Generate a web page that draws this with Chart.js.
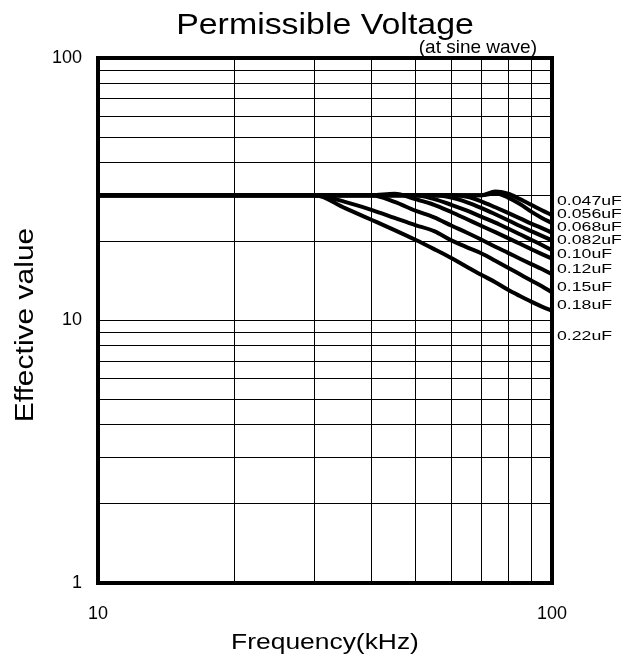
<!DOCTYPE html>
<html>
<head>
<meta charset="utf-8">
<script src="https://cdn.jsdelivr.net/npm/chart.js@4/dist/chart.umd.min.js"></script>
<style>
  html, body { margin: 0; padding: 0; background: #fff; }
  #wrap { width: 630px; height: 659px; }
</style>
</head>
<body>
<div id="wrap"><canvas id="pv" width="630" height="659"></canvas></div>
<script>
// frequency grid (kHz) shared by all curves
var freq = [10, 30, 35, 40, 45, 50, 55, 60, 65, 70, 75, 80, 85, 90, 95, 100];

var capLabels = ["0.047uF", "0.056uF", "0.068uF", "0.082uF", "0.10uF", "0.12uF", "0.15uF", "0.18uF", "0.22uF"];

// permissible voltage (Vrms) per capacitance
var v047 = [30, 30, 30, 30, 30, 30, 30, 30, 30, 30, 31.0, 30.4, 29.0, 27.6, 26.3, 25.2];
var v056 = [30, 30, 30, 30, 30, 30, 30, 30, 30, 30, 30.5, 29.4, 27.8, 26.0, 24.6, 23.5];
var v068 = [30, 30, 30, 30, 30, 30, 30, 30, 29.6, 28.4, 27.0, 25.7, 24.5, 23.4, 22.5, 21.6];
var v082 = [30, 30, 30, 30, 30, 30, 30, 29.4, 28.2, 26.8, 25.4, 24.1, 22.9, 21.9, 21.0, 20.2];
var v10  = [30, 30, 30, 30, 30, 30, 29.0, 27.6, 26.2, 24.8, 23.6, 22.4, 21.3, 20.3, 19.4, 18.5];
var v12  = [30, 30, 30, 30, 30.4, 29.0, 27.6, 25.9, 24.3, 22.9, 21.7, 20.6, 19.6, 18.7, 17.9, 17.2];
var v15  = [30, 30, 30, 30, 28.3, 26.2, 24.7, 23.0, 21.6, 20.3, 19.1, 18.1, 17.2, 16.4, 15.7, 15.0];
var v18  = [30, 30, 28.3, 26.4, 24.6, 23.1, 21.9, 20.2, 19.0, 18.0, 16.9, 15.9, 15.0, 14.2, 13.5, 12.8];
var v22  = [30, 30, 26.8, 24.2, 22.1, 20.3, 18.7, 17.3, 16.0, 14.9, 14.0, 13.1, 12.4, 11.8, 11.3, 10.9];

// voltage level where each curve label sits at the right edge
var labelAt = [28.3, 25.4, 22.7, 20.1, 17.9, 15.7, 13.4, 11.4, 8.7];

var xTicks = [10, 20, 30, 40, 50, 60, 70, 80, 90, 100];
var yTicks = [1, 2, 3, 4, 5, 6, 7, 8, 9, 10, 20, 30, 40, 50, 60, 70, 80, 90, 100];
var xShown = [10, 100];
var yShown = [1, 10, 100];

var FONT = "'Liberation Sans', Arial, sans-serif";

function toPoints(vals) {
    return freq.map(function(f, i) { return { x: f, y: vals[i] }; });
}

function stretchText(ctx, txt, x, y, sx, align) {
    ctx.save();
    ctx.translate(x, y);
    ctx.scale(sx, 1);
    ctx.textAlign = align;
    ctx.fillText(txt, 0, 0);
    ctx.restore();
}

var series = [v047, v056, v068, v082, v10, v12, v15, v18, v22];

var decor = {
    id: "decor",
    afterDatasetsDraw: function(chart) {
        var ctx = chart.ctx, a = chart.chartArea;
        ctx.save();
        ctx.strokeStyle = "#000";
        ctx.lineWidth = 4;
        ctx.strokeRect(a.left, a.top, a.right - a.left, a.bottom - a.top);
        ctx.restore();
    },
    afterDraw: function(chart) {
        var ctx = chart.ctx, a = chart.chartArea;
        var ys = chart.scales.y;
        ctx.save();
        ctx.fillStyle = "#000";
        ctx.textBaseline = "alphabetic";

        ctx.font = "30px " + FONT;
        stretchText(ctx, "Permissible Voltage", (a.left + a.right) / 2, 34, 1.13, "center");

        ctx.font = "19px " + FONT;
        stretchText(ctx, "(at sine wave)", 537, 53, 1.0, "right");

        ctx.font = "22px " + FONT;
        stretchText(ctx, "Frequency(kHz)", (a.left + a.right) / 2, 649, 1.2, "center");

        ctx.save();
        ctx.translate(33, 325);
        ctx.rotate(-Math.PI / 2);
        ctx.font = "25px " + FONT;
        stretchText(ctx, "Effective value", 0, 0, 1.2, "center");
        ctx.restore();

        // curve labels
        ctx.font = "13px " + FONT;
        ctx.textBaseline = "middle";
        capLabels.forEach(function(lbl, i) {
            stretchText(ctx, lbl, a.right + 5, ys.getPixelForValue(labelAt[i]), 1.36, "left");
        });
        ctx.restore();
    }
};

new Chart(document.getElementById("pv"), {
    type: "line",
    data: {
        datasets: series.map(function(s, i) {
            return {
                label: capLabels[i],
                data: toPoints(s),
                borderColor: "#000",
                borderWidth: 4,
                pointRadius: 0,
                fill: false,
                cubicInterpolationMode: "monotone"
            };
        })
    },
    options: {
        responsive: false,
        devicePixelRatio: 1,
        animation: false,
        layout: { padding: { top: 58, right: 78, left: 0, bottom: 0 } },
        plugins: {
            legend: { display: false },
            tooltip: { enabled: false },
            title: { display: false }
        },
        scales: {
            x: {
                type: "logarithmic",
                min: 10,
                max: 100,
                afterBuildTicks: function(scale) {
                    scale.ticks = xTicks.map(function(v) { return { value: v }; });
                },
                afterFit: function(scale) { scale.height = 76; },
                ticks: {
                    autoSkip: false,
                    maxRotation: 0,
                    padding: 20,
                    color: "#000",
                    font: { family: FONT, size: 18 },
                    callback: function(v) { return xShown.indexOf(v) >= 0 ? String(v) : ""; }
                },
                grid: { color: "#000", lineWidth: 1, drawTicks: false },
                border: { display: false }
            },
            y: {
                type: "logarithmic",
                min: 1,
                max: 100,
                afterBuildTicks: function(scale) {
                    scale.ticks = yTicks.map(function(v) { return { value: v }; });
                },
                afterFit: function(scale) { scale.width = 98; },
                ticks: {
                    autoSkip: false,
                    padding: 16,
                    color: "#000",
                    font: { family: FONT, size: 18 },
                    callback: function(v) { return yShown.indexOf(v) >= 0 ? String(v) : ""; }
                },
                grid: { color: "#000", lineWidth: 1, drawTicks: false },
                border: { display: false }
            }
        }
    },
    plugins: [decor]
});
</script>
</body>
</html>
